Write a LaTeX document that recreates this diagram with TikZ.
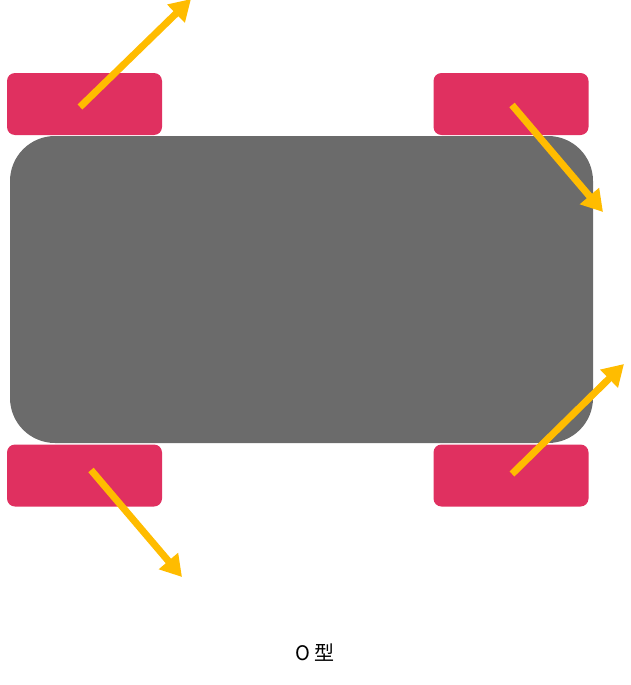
\documentclass[tikz,border=0pt]{standalone}
\usepackage{fontspec}
\newfontfamily\cjk{Noto Sans CJK SC}
\usetikzlibrary{arrows.meta}
\definecolor{bodygray}{HTML}{6B6B6B}
\definecolor{wheelred}{HTML}{E03060}
\definecolor{arrowyel}{HTML}{FFBC00}
\begin{document}
\begin{tikzpicture}[x=1pt,y=-1pt,
  wheel/.style={fill=wheelred,draw=none,rounded corners=8pt,minimum width=155pt,minimum height=62pt,inner sep=0pt},
  chassis/.style={fill=bodygray,draw=none,rounded corners=45pt,minimum width=583pt,minimum height=307pt,inner sep=0pt},
  motion/.style={draw=arrowyel,line width=7pt,-{Triangle[length=21pt,width=24pt]}}]
\useasboundingbox (0,0) rectangle (630,685);
\node[chassis] (body) at (301.5,289.5) {};
\node[wheel] (fl) at (84.5,104) {};
\node[wheel] (fr) at (511,104) {};
\node[wheel] (rl) at (84.5,475.5) {};
\node[wheel] (rr) at (511,475.5) {};
\coordinate (a1s) at (80,107);
\coordinate (a1e) at (191,-1);
\coordinate (a2s) at (512,105);
\coordinate (a2e) at (603,212);
\coordinate (a3s) at (512,474);
\coordinate (a3e) at (624,364);
\coordinate (a4s) at (91,470);
\coordinate (a4e) at (182,577);
\draw[motion] (a1s) -- (a1e);
\draw[motion] (a2s) -- (a2e);
\draw[motion] (a3s) -- (a3e);
\draw[motion] (a4s) -- (a4e);
\node[font=\cjk\fontsize{20}{22}\selectfont,inner sep=0pt] (label) at (315,653) {O 型};
\end{tikzpicture}
\end{document}
